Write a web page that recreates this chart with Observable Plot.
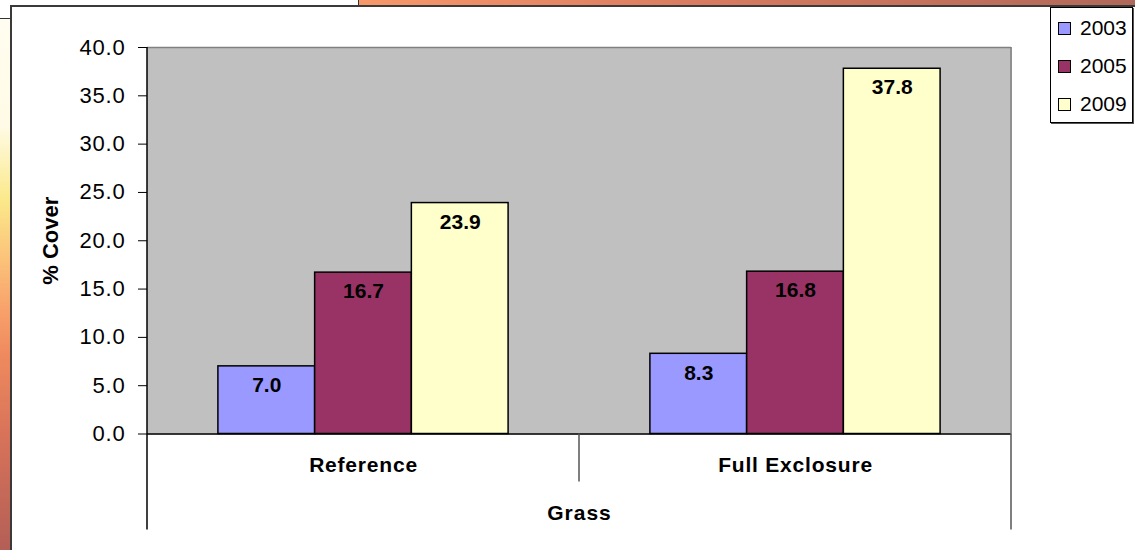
<!DOCTYPE html>
<html>
<head>
<meta charset="utf-8">
<script src="https://cdn.jsdelivr.net/npm/d3@7"></script>
<script src="https://cdn.jsdelivr.net/npm/@observablehq/plot@0.6"></script>
<style>
  html, body { margin: 0; padding: 0; background: #fff; }
  #page { position: relative; width: 1135px; height: 550px; overflow: hidden; background: #fff;
          font-family: "Liberation Sans", Arial, sans-serif; }
  .strip-top { position: absolute; left: 358px; top: 0; width: 777px; height: 5px;
               border-left: 1px solid #333; background: linear-gradient(to right, #f7986a, #d87a60 45%, #b0685a); }
  .strip-left { position: absolute; left: 0; top: 18px; width: 10px; height: 532px; border-top: 1px solid #333;
                background: linear-gradient(to bottom, #fffdf0 0%, #fffbe6 20%, #fbe98a 34%, #fbc37a 45%,
                            #f8a06a 55%, #ef8a5e 63%, #d8735a 78%, #b35f56 100%); }
  .panel { position: absolute; left: 10px; top: 5px; width: 1140px; height: 560px; background: #fff;
           border-left: 2px solid #3a3a3a; border-top: 2px solid #3a3a3a; }
  #chart { position: absolute; left: 0; top: 0; }
  #chart g[aria-label="y-axis tick label"] text { font-size: 22px; letter-spacing: 0.8px; }
  #chart g[aria-label="y-axis label"] text { font-weight: bold; font-size: 22px; }
  #chart g[aria-label="fx-axis label"] text { font-weight: bold; letter-spacing: 1px; }
  #chart g[aria-label="fx-axis tick label"] text { font-weight: bold; letter-spacing: 0.8px; }
  .legend { position: absolute; left: 1050px; top: 7px; width: 81px; height: 114px; background: #fff;
            border: 1px solid #000; box-shadow: 1px 1px 0 #555; font-size: 21px; }
  .legend .item { position: absolute; left: 7px; height: 24px; display: flex; align-items: center; }
  .legend .sw { width: 11px; height: 11px; border: 1px solid #000; margin-right: 9px; }
</style>
</head>
<body>
<div id="page">
  <div class="strip-top"></div>
  <div class="strip-left"></div>
  <div class="panel"></div>
  <div id="chart"></div>
</div>
<script>
// Grass cover by treatment and survey year
const groups = ["Reference", "Full Exclosure"];
const years = ["2003", "2005", "2009"];
const colors = ["#9999FF", "#993366", "#FFFFCC"];
const referenceCover = [7.0, 16.7, 23.9];
const exclosureCover = [8.3, 16.8, 37.8];
const yTicks = [0, 5, 10, 15, 20, 25, 30, 35, 40];

const rows = [];
years.forEach((year, i) => {
  rows.push({group: groups[0], year, value: referenceCover[i]});
  rows.push({group: groups[1], year, value: exclosureCover[i]});
});

const chart = Plot.plot({
  width: 1135,
  height: 550,
  marginLeft: 147,
  marginRight: 124,
  marginTop: 47,
  marginBottom: 116.5,
  style: {background: "transparent", fontFamily: "'Liberation Sans', Arial, sans-serif", fontSize: "21px", color: "#000"},
  facet: {data: rows, x: "group"},
  fx: {domain: groups, padding: 0, round: false, label: "Grass", axis: "bottom", tickSize: 0, tickPadding: 23,
       labelAnchor: "center", labelOffset: 86, labelArrow: "none"},
  x: {domain: years, paddingInner: 0, paddingOuter: 0.733, round: false, axis: null},
  y: {domain: [0, 40], ticks: yTicks, tickFormat: d => d.toFixed(1), tickSize: 9, tickPadding: 13,
      label: "% Cover", labelAnchor: "center", labelOffset: 105, labelArrow: "none"},
  color: {domain: years, range: colors},
  marks: [
    Plot.frame({fill: "#c0c0c0", stroke: "#c0c0c0"}),
    Plot.ruleY([40], {stroke: "#808080", strokeWidth: 1.5}),
    Plot.barY(rows, {x: "year", y: "value", fill: "year", stroke: "#000", strokeWidth: 1.5}),
    Plot.text(rows, {x: "year", y: "value", text: d => d.value.toFixed(1), dy: 19,
                     fontWeight: "bold", fontSize: 21, fill: "#000"}),
    Plot.ruleY([0], {stroke: "#000", strokeWidth: 1.5})
  ]
});
document.getElementById("chart").appendChild(chart);

// keep the axis titles free of direction arrows
d3.select(chart).selectAll('g[aria-label="y-axis label"] text').text("% Cover");
d3.select(chart).selectAll('g[aria-label="fx-axis label"] text').text("Grass");

// category separators, left axis line and right border of the plot area
const fx = chart.scale("fx");
const y = chart.scale("y");
const x0 = fx.range[0];
const step = fx.step ?? (fx.range[1] - fx.range[0]) / fx.domain.length;
const yTop = Math.min(...y.range), yBase = Math.max(...y.range);
const svg = d3.select(chart);
const edges = d3.range(fx.domain.length + 1).map(i => x0 + i * step);
svg.append("g")
  .selectAll("line")
  .data(edges)
  .join("line")
  .attr("x1", d => d).attr("x2", d => d)
  .attr("y1", (d, i) => i === 0 ? yTop : yBase)
  .attr("y2", (d, i) => i === 0 || i === edges.length - 1 ? yBase + 96 : yBase + 48)
  .attr("stroke", (d, i) => i === 0 ? "#000" : "#555")
  .attr("stroke-width", 1.5);
svg.append("line")
  .attr("x1", edges[edges.length - 1]).attr("x2", edges[edges.length - 1])
  .attr("y1", yTop).attr("y2", yBase)
  .attr("stroke", "#808080").attr("stroke-width", 1.5);

// legend
const legend = d3.select("#page").append("div").attr("class", "legend");
const items = legend.selectAll(".item").data(years).join("div")
  .attr("class", "item")
  .style("top", (d, i) => `${8 + i * 38}px`);
items.append("div").attr("class", "sw").style("background", (d, i) => colors[i]);
items.append("span").text(d => d);
</script>
</body>
</html>
